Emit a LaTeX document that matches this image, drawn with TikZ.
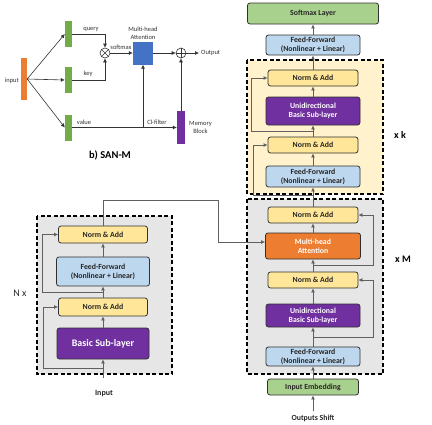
\documentclass[tikz,border=0pt]{standalone}
\usepackage{fontspec}
\setmainfont{Carlito}
\usetikzlibrary{arrows.meta,calc}
\definecolor{bordc}{HTML}{303030}
\definecolor{linec}{HTML}{606060}
\definecolor{smgreen}{HTML}{A9D18E}
\definecolor{ffblue}{HTML}{BDD7EE}
\definecolor{nayel}{HTML}{FFE699}
\definecolor{purp}{HTML}{7030A0}
\definecolor{orng}{HTML}{ED7D31}
\definecolor{attblue}{HTML}{4472C4}
\definecolor{bargreen}{HTML}{70AD47}
\definecolor{ybg}{HTML}{FFF2CC}
\definecolor{gbg}{HTML}{E7E6E6}
\begin{document}
\begin{tikzpicture}[x=1pt,y=-1pt,
  box/.style={draw=bordc, line width=0.8pt, rounded corners=2.5pt, align=center, inner sep=0pt,
    font=\fontsize{7.8}{9}\selectfont\bfseries, text=black!85},
  na/.style={box, fill=nayel, minimum width=90pt, minimum height=16pt},
  ff/.style={box, fill=ffblue, minimum width=94pt, minimum height=20pt},
  uni/.style={box, fill=purp, text=white, minimum width=94pt, minimum height=25pt},
  frame/.style={draw=black, line width=1.2pt, dash pattern=on 4pt off 2.5pt},
  ln/.style={draw=linec, line width=0.8pt},
  arr/.style={ln, -{Latex[length=4pt,width=4pt]}},
  arrb/.style={draw=black!80, line width=0.6pt, -{Latex[length=4pt,width=4pt]}},
  bar/.style={inner sep=0pt, minimum width=7pt},
  lab/.style={font=\fontsize{6.5}{8}\selectfont, text=black!80, inner sep=0pt, align=center},
  big/.style={font=\fontsize{10}{11}\selectfont\bfseries, inner sep=0pt}
]
\useasboundingbox (0,0) rectangle (432,424);

% ---------- frames ----------
\draw[frame, fill=ybg] (247,60) rectangle (383,194);
\draw[frame, fill=gbg] (247,199) rectangle (383,374);
\draw[frame, fill=gbg] (37,216) rectangle (172,374);

% ---------- right stack ----------
\node[box, fill=smgreen, minimum width=131pt, minimum height=21pt] (sm) at (313,13.5) {Softmax Layer};
\node[ff] (fft) at (313,45) {Feed-Forward\\(Nonlinear + Linear)};
\node[na] (nak1) at (313,78) {Norm \& Add};
\node[uni, minimum height=28pt] (unik) at (313,111) {Unidirectional\\Basic Sub-layer};
\node[na] (nak2) at (313,145) {Norm \& Add};
\node[ff, minimum height=21pt] (ffk) at (313,176.5) {Feed-Forward\\(Nonlinear + Linear)};

\node[na] (nam1) at (313,215) {Norm \& Add};
\node[box, fill=orng, text=white, minimum width=95pt, minimum height=26pt] (mha) at (313,246) {Multi-head\\Attention};
\node[na] (nam2) at (313,280) {Norm \& Add};
\node[uni, minimum height=23pt] (unim) at (313,315.5) {Unidirectional\\Basic Sub-layer};
\node[ff, minimum height=19pt] (ffm) at (313,356.5) {Feed-Forward\\(Nonlinear + Linear)};
\node[box, fill=smgreen, minimum width=91pt, minimum height=16pt] (ie) at (313,387) {Input Embedding};
\node[font=\fontsize{7.8}{9}\selectfont\bfseries, text=black!85, inner sep=0pt] (os) at (313,418) {Outputs Shift};
\coordinate (osin) at (313,411);

\draw[arr] (osin) -- (ie.south);
\draw[arr] (ie) -- (ffm);
\draw[arr] (ffm) -- (unim);
\draw[arr] (unim) -- (nam2);
\draw[arr] (nam2) -- (mha);
\draw[arr] (mha) -- (nam1);
\draw[arr] (nam1) -- (ffk);
\draw[arr] (ffk) -- (nak2);
\draw[arr] (nak2) -- (unik);
\draw[arr] (unik) -- (nak1);
\draw[arr] (nak1) -- (fft);
\draw[arr] (fft) -- (sm);

% residuals right stack
\coordinate (rm1) at ($(ffm.north)!.5!(unim.south)$);
\coordinate (rm2) at ($(nam2.north)!.5!(mha.south)$);
\draw[arr] (rm1) -- ++(60,0) |- (nam2.east);
\draw[arr] (rm2) -- ++(60,0) |- (nam1.east);
\coordinate (rk1) at (313,195);
\coordinate (rk2) at ($(nak2.north)!.5!(unik.south)$);
\draw[arr] (rk1) -- (253,195) |- (nak2.west);
\draw[arr] (rk2) -- (251,131) |- (nak1.west);

% ---------- left stack ----------
\node[na, minimum width=89pt, minimum height=17pt] (nl1) at (103,234.5) {Norm \& Add};
\node[ff, minimum width=93pt, minimum height=29pt] (ffl) at (103,271.5) {Feed-Forward\\(Nonlinear + Linear)};
\node[na, minimum width=89pt, minimum height=18pt] (nl2) at (103,307) {Norm \& Add};
\node[box, fill=purp, text=white, minimum width=92pt, minimum height=31pt, font=\fontsize{10}{11}\selectfont\bfseries] (bsl) at (103,343.5) {Basic Sub-layer};
\node[font=\fontsize{8}{9}\selectfont\bfseries, text=black!85, inner sep=0pt] (inl) at (104,394) {Input};
\coordinate (inlin) at (103,378);

\draw[arr] (inlin) -- (bsl.south);
\draw[arr] (bsl) -- (nl2);
\draw[arr] (nl2) -- (ffl);
\draw[arr] (ffl) -- (nl1);
\coordinate (rl1) at (103,368);
\coordinate (rl2) at ($(nl2.north)!.5!(ffl.south)$);
\draw[arr] (rl1) -- (43,368) |- (nl2.west);
\draw[arr] (rl2) -- (42,292) |- (nl1.west);

% encoder to decoder
\coordinate (mhain) at ($(mha.west)+(0,-4)$);
\draw[arr] (nl1.north) |- (218,200) |- (mhain);

% labels
\node[font=\fontsize{10}{11}\selectfont, text=black!85, inner sep=0pt] (nx) at (20,293) {N x};
\node[big] (xk) at (400,135) {x k};
\node[big] (xm) at (403,259) {x M};

% ---------- SAN-M ----------
\node[inner sep=0pt, minimum width=6pt, minimum height=42pt, fill=orng] (inp) at (24,79) {};
\node[lab, anchor=east] (inpl) at (19,81) {input};
\node[bar, fill=bargreen, minimum height=26pt] (q) at (68.5,34) {};
\node[bar, fill=bargreen, minimum height=26pt] (k) at (68.5,80) {};
\node[bar, fill=bargreen, minimum height=26pt] (v) at (68.5,127.5) {};
\draw[arrb] (inp.east) -- (q.west);
\draw[arrb] (inp.east) -- (k.west);
\draw[arrb] (inp.east) -- (v.west);

\node[circle, draw=black!80, line width=0.6pt, minimum size=10pt, inner sep=0pt] (mul) at (105,53) {};
\draw[black!80, line width=0.5pt] (mul.north west) -- (mul.south east) (mul.north east) -- (mul.south west);
\node[inner sep=0pt, minimum width=20pt, minimum height=23pt, fill=attblue] (att) at (143,53) {};
\node[circle, draw=black!80, line width=0.6pt, minimum size=10pt, inner sep=0pt] (add) at (181,53) {};
\draw[black!80, line width=0.5pt] (add.north) -- (add.south) (add.west) -- (add.east);
\node[inner sep=0pt, minimum width=8pt, minimum height=33pt, fill=purp] (mem) at (181,127.5) {};

\draw[arrb] (q.east) -| (mul.north);
\draw[arrb] (k.east) -| (mul.south);
\draw[arrb] (mul.east) -- (att.west);
\draw[arrb] (att.east) -- (add.west);
\coordinate (outp) at (199,53);
\draw[arrb] (add.east) -- (outp);
\draw[arrb] (v.east) -- (mem.west);
\coordinate (clf) at (att.south |- v.east);
\draw[arrb] (clf) -- (att.south);
\draw[arrb] (mem.north) -- (add.south);

\node[lab, anchor=west] (outl) at (201,53) {Output};
\node[lab] (ql) at (91,29) {query};
\node[lab] (kl) at (88,74) {key};
\node[lab] (vl) at (84,122) {value};
\node[lab] (sml) at (121,47) {softmax};
\node[lab] (mhl) at (143,33) {Multi-head\\Attention};
\node[lab] (cll) at (157,122) {Cl-filter};
\node[lab, anchor=west] (meml) at (189,127) {Memory\\Block};
\node[big, font=\fontsize{10.5}{12}\selectfont\bfseries] (sanm) at (110,155) {b) SAN-M};
\end{tikzpicture}
\end{document}
